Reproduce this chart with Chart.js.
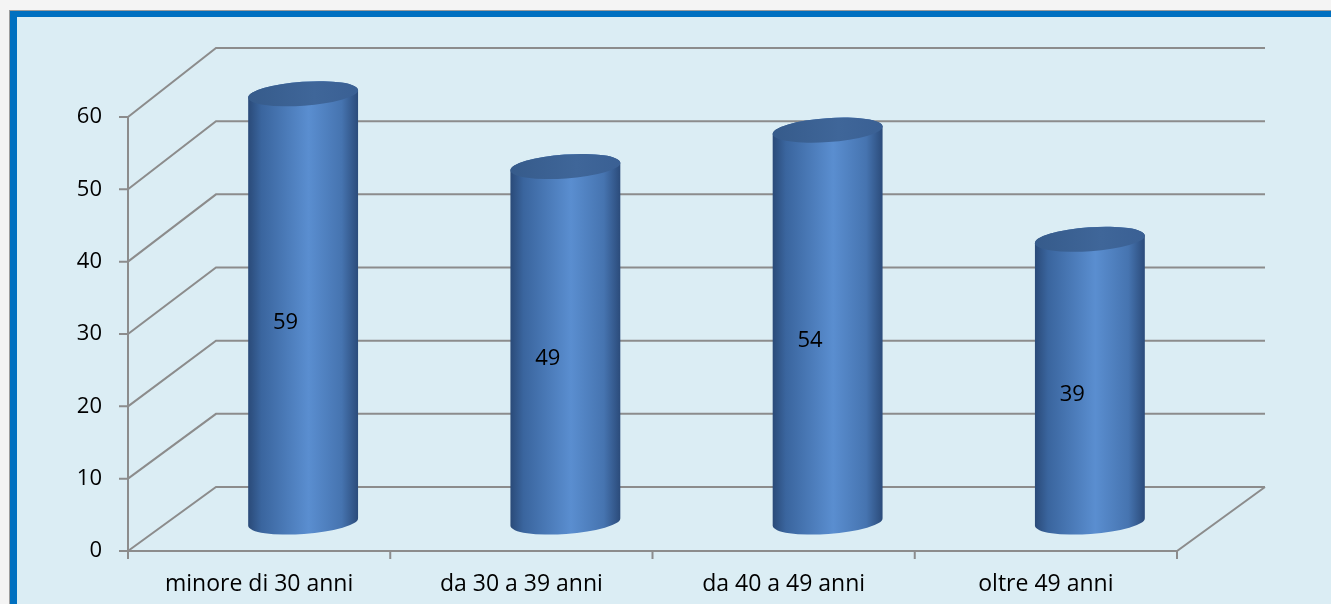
<!DOCTYPE html>
<html>
<head>
<meta charset="utf-8">
<script src="https://cdn.jsdelivr.net/npm/chart.js@4"></script>
<style>
    html, body { margin: 0; padding: 0; background: #f4f4f4; }
    canvas { display: block; }
</style>
</head>
<body>
<canvas id="ageChart" width="1331" height="604"></canvas>
<script>
// Age brackets and head counts
const ageGroups = ["minore di 30 anni", "da 30 a 39 anni", "da 40 a 49 anni", "oltre 49 anni"];
const counts = [59, 49, 54, 39];
const yTicks = [0, 10, 20, 30, 40, 50, 60];

// Offset of the back wall from the front plane (3D box depth);
// the vertical shift grows a little towards the top for perspective
const DEPTH_X = 88;
const DEPTH_Y_FLOOR = -64;
const DEPTH_Y_TOP = -69;
const GRID_COLOR = "#8c8c8c";
const FONT = "'Open Sans', Lato, sans-serif";

function depthY(v) {
    return DEPTH_Y_FLOOR + (DEPTH_Y_TOP - DEPTH_Y_FLOOR) * v / 60;
}

// Page frame: grey outside, blue border, pale blue panel
const framePlugin = {
    id: "frame",
    beforeDraw(chart) {
        const {ctx, width, height} = chart;
        ctx.save();
        ctx.fillStyle = "#f4f4f4";
        ctx.fillRect(0, 0, width, height);
        ctx.fillStyle = "#9c9c9c";
        ctx.fillRect(9, 10, width, height);
        ctx.fillStyle = "#0070c0";
        ctx.fillRect(10, 11, width, height);
        ctx.fillStyle = "#dbedf4";
        ctx.fillRect(17, 17, width, height);
        ctx.restore();
    }
};

// Back wall, side wall, floor and front axis lines
const boxPlugin = {
    id: "box3d",
    beforeDatasetsDraw(chart) {
        const {ctx, chartArea} = chart;
        const yScale = chart.scales.y;
        const xScale = chart.scales.x;
        const left = chartArea.left;
        const right = chartArea.right;
        const y0 = yScale.getPixelForValue(0);
        ctx.save();
        ctx.strokeStyle = GRID_COLOR;
        ctx.lineWidth = 2;
        ctx.beginPath();
        yTicks.forEach(v => {
            const yf = yScale.getPixelForValue(v);
            ctx.moveTo(left, yf);
            ctx.lineTo(left + DEPTH_X, yf + depthY(v));
            ctx.lineTo(right + DEPTH_X, yf + depthY(v));
            // tick mark on the front axis
            ctx.moveTo(left - 9, yf);
            ctx.lineTo(left, yf);
        });
        // floor: front edge and right edge
        ctx.moveTo(left, y0);
        ctx.lineTo(right, y0);
        ctx.lineTo(right + DEPTH_X, y0 + depthY(0));
        // front vertical axis
        ctx.moveTo(left, yScale.getPixelForValue(60));
        ctx.lineTo(left, y0 + 8);
        // category separators
        for (let i = 0; i <= ageGroups.length; i++) {
            const xp = xScale.getPixelForValue(i - 0.5);
            ctx.moveTo(xp, y0);
            ctx.lineTo(xp, y0 + 8);
        }
        ctx.stroke();
        ctx.restore();
    }
};

function drawCylinder(ctx, cx, topY, botY, rx, ry, rot) {
    const side = ctx.createLinearGradient(cx - rx, 0, cx + rx, 0);
    side.addColorStop(0, "#2a4a78");
    side.addColorStop(0.12, "#3a659e");
    side.addColorStop(0.55, "#5a8ed0");
    side.addColorStop(0.85, "#4674b0");
    side.addColorStop(1, "#2b4b7a");

    ctx.beginPath();
    ctx.ellipse(cx, topY, rx, ry, rot, Math.PI, 0, false);
    ctx.lineTo(cx + rx * Math.cos(rot), botY + rx * Math.sin(rot));
    ctx.ellipse(cx, botY, rx, ry, rot, 0, Math.PI, false);
    ctx.closePath();
    ctx.fillStyle = side;
    ctx.fill();

    const lid = ctx.createLinearGradient(cx - rx, 0, cx + rx, 0);
    lid.addColorStop(0, "#365b8b");
    lid.addColorStop(0.6, "#3f6699");
    lid.addColorStop(1, "#3a6094");
    ctx.beginPath();
    ctx.ellipse(cx, topY, rx, ry, rot, 0, Math.PI * 2);
    ctx.fillStyle = lid;
    ctx.fill();
}

// Cylinders sit halfway into the box, built from the bar elements
const cylinderPlugin = {
    id: "cylinders",
    afterDatasetsDraw(chart) {
        const {ctx} = chart;
        const meta = chart.getDatasetMeta(0);
        ctx.save();
        meta.data.forEach((bar, i) => {
            const rx = bar.width / 2;
            const cx = bar.x + DEPTH_X / 2;
            const topY = bar.y + depthY(counts[i]) / 2 + 4;
            const botY = bar.base + depthY(0) / 2 + 3;
            drawCylinder(ctx, cx, topY, botY, rx, 12, -0.07);
        });
        ctx.fillStyle = "#000";
        ctx.font = "22px " + FONT;
        ctx.textAlign = "center";
        ctx.textBaseline = "middle";
        meta.data.forEach((bar, i) => {
            const lx = bar.x + DEPTH_X * 0.3;
            const ly = (bar.y + bar.base) / 2 - 15;
            ctx.fillText(String(counts[i]), lx, ly);
        });
        ctx.restore();
    }
};

new Chart(document.getElementById("ageChart"), {
    type: "bar",
    data: {
        labels: ageGroups,
        datasets: [{
            data: counts,
            backgroundColor: "rgba(0,0,0,0)",
            borderWidth: 0,
            barPercentage: 0.42,
            categoryPercentage: 1
        }]
    },
    options: {
        responsive: false,
        animation: false,
        devicePixelRatio: 1,
        layout: {padding: {top: 117, right: 154, left: 0, bottom: 0}},
        plugins: {legend: {display: false}, tooltip: {enabled: false}},
        scales: {
            y: {
                min: 0,
                max: 60,
                afterFit: scale => { scale.width = 128; },
                grid: {display: false, drawTicks: false},
                border: {display: false},
                ticks: {stepSize: 10, padding: 26, color: "#000", font: {family: FONT, size: 22}}
            },
            x: {
                offset: true,
                afterFit: scale => { scale.height = 53; },
                grid: {display: false, drawTicks: false},
                border: {display: false},
                ticks: {padding: 20, color: "#000", font: {family: FONT, size: 23}, maxRotation: 0}
            }
        }
    },
    plugins: [framePlugin, boxPlugin, cylinderPlugin]
});
</script>
</body>
</html>
